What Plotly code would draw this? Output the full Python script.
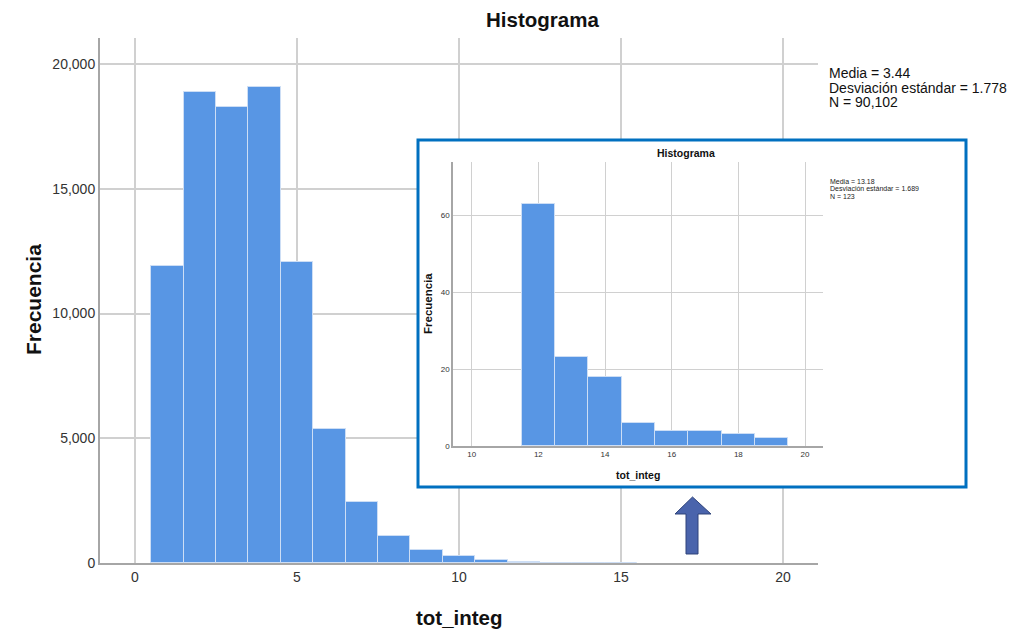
import plotly.graph_objects as go

W, H = 1011, 629

# Main histogram data (bin centers, counts)
main_bins = [1, 2, 3, 4, 5, 6, 7, 8, 9, 10, 11, 12, 13, 14, 15]
main_counts = [11900, 18880, 18280, 19080, 12065, 5370, 2445, 1090, 525, 280, 120, 40, 20, 10, 5]
main_xticks = [0, 5, 10, 15, 20]
main_yticks = [0, 5000, 10000, 15000, 20000]
main_stats = ["Media = 3.44", "Desviación estándar = 1.778", "N = 90,102"]

# Inset histogram data
inset_bins = [12, 13, 14, 15, 16, 17, 18, 19]
inset_counts = [63, 23, 18, 6, 4, 4, 3, 2]
inset_xticks = [10, 12, 14, 16, 18, 20]
inset_yticks = [0, 20, 40, 60]
inset_stats = ["Media = 13.18", "Desviación estándar = 1.689", "N = 123"]

FONT = "Liberation Sans, Arial, sans-serif"
BAR = "rgb(88,150,228)"
BAR_LINE = "rgb(205,222,245)"
GRID = "#d0d0d0"
AXLINE = "#a6a6a6"


def px_x(p):
    return p / W


def px_y(p):
    return 1 - p / H


fig = go.Figure()
fig.add_trace(go.Bar(x=main_bins, y=main_counts, width=1, marker=dict(color=BAR, line=dict(color=BAR_LINE, width=1)),
                     xaxis="x", yaxis="y", showlegend=False))
# dummy subplot acting as white backdrop of inset box
fig.add_trace(go.Scatter(x=[0], y=[0], mode="markers", marker=dict(opacity=0), xaxis="x2", yaxis="y2",
                         showlegend=False, hoverinfo="skip"))
fig.add_trace(go.Bar(x=inset_bins, y=inset_counts, width=1, marker=dict(color=BAR, line=dict(color=BAR_LINE, width=1)),
                     xaxis="x3", yaxis="y3", showlegend=False))

common = dict(zeroline=False, showline=True, ticks="", automargin=False, fixedrange=True)
fig.update_layout(
    width=W, height=H,
    margin=dict(l=0, r=0, t=0, b=0, pad=0, autoexpand=False),
    paper_bgcolor="white", plot_bgcolor="white",
    font=dict(family=FONT, color="#222"),
    bargap=0,
    xaxis=dict(domain=[px_x(100), px_x(818)], range=[-1.08, 21.08], tickvals=main_xticks,
               showgrid=True, gridcolor=GRID, gridwidth=1.5, linecolor=AXLINE, linewidth=2,
               tickfont=dict(size=14, color="#333"), anchor="y", **common),
    yaxis=dict(domain=[px_y(563), px_y(38)], range=[0, 21050], tickvals=main_yticks, tickformat=",",
               showgrid=True, gridcolor=GRID, gridwidth=1.5, linecolor=AXLINE, linewidth=2,
               tickfont=dict(size=14, color="#333"), anchor="x", **common),
    xaxis2=dict(domain=[px_x(417), px_x(967)], range=[0, 1], visible=False, showgrid=False, anchor="y2",
                automargin=False),
    yaxis2=dict(domain=[px_y(487), px_y(139)], range=[0, 1], visible=False, showgrid=False, anchor="x2",
                automargin=False),
    xaxis3=dict(domain=[px_x(453), px_x(823)], range=[9.44, 20.54], tickvals=inset_xticks,
                showgrid=True, gridcolor=GRID, gridwidth=1, linecolor=AXLINE, linewidth=1.5,
                tickfont=dict(size=8, color="#333"), anchor="y3", **common),
    yaxis3=dict(domain=[px_y(446), px_y(162)], range=[0, 73.8], tickvals=inset_yticks,
                showgrid=True, gridcolor=GRID, gridwidth=1, linecolor=AXLINE, linewidth=1.5,
                tickfont=dict(size=8, color="#333"), anchor="x3", **common),
)

ann = []
# main title and axis titles
ann.append(dict(x=px_x(542), y=px_y(20), text="<b>Histograma</b>", font=dict(size=20.5, color="#111")))
ann.append(dict(x=px_x(33), y=px_y(300), text="<b>Frecuencia</b>", textangle=-90, font=dict(size=21, color="#111")))
ann.append(dict(x=px_x(459), y=px_y(617), text="<b>tot_integ</b>", font=dict(size=20.5, color="#111")))
for i, s in enumerate(main_stats):
    ann.append(dict(x=px_x(827), y=px_y(73 + 14.5 * i), text=s, xanchor="left", font=dict(size=14, color="#111")))
# inset titles
ann.append(dict(x=px_x(686), y=px_y(153), text="<b>Histograma</b>", font=dict(size=10.5, color="#111")))
ann.append(dict(x=px_x(428), y=px_y(304), text="<b>Frecuencia</b>", textangle=-90, font=dict(size=11.5, color="#111")))
ann.append(dict(x=px_x(638), y=px_y(475), text="<b>tot_integ</b>", font=dict(size=10.5, color="#111")))
for i, s in enumerate(inset_stats):
    ann.append(dict(x=px_x(828), y=px_y(181 + 7.8 * i), text=s, xanchor="left", font=dict(size=7, color="#222")))
for a in ann:
    a.update(xref="paper", yref="paper", showarrow=False)
    a.setdefault("xanchor", "center")
    a.setdefault("yanchor", "middle")
fig.update_layout(annotations=ann)

# inset border
shapes = [dict(type="rect", xref="paper", yref="paper", x0=px_x(418), x1=px_x(966), y0=px_y(487), y1=px_y(140),
               line=dict(color="#0070c0", width=3), fillcolor="rgba(0,0,0,0)", layer="above")]
# arrow
pts = [(686, 554), (698, 554), (698, 514), (711, 514), (692.5, 497), (675, 514), (686, 514)]
path = "M " + " L ".join(f"{px_x(x):.5f},{px_y(y):.5f}" for x, y in pts) + " Z"
shapes.append(dict(type="path", xref="paper", yref="paper", path=path, fillcolor="#4a64ac",
                   line=dict(color="#2e437a", width=1), layer="above"))
fig.update_layout(shapes=shapes)

fig.write_html("out.html", config={"displayModeBar": False},
               post_script="document.body.style.margin='0';document.body.style.overflow='hidden';")
